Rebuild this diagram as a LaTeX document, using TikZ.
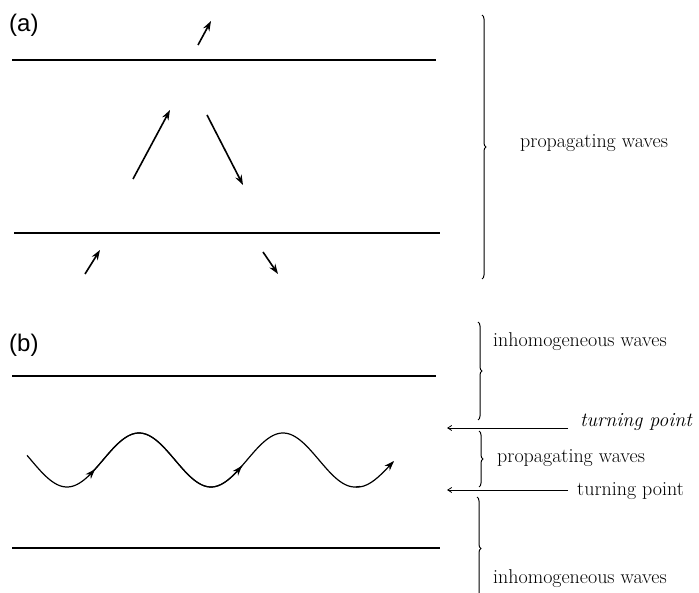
\documentclass[tikz,border=0pt]{standalone}
\usepackage{fontspec}
\newfontfamily\labelfont{Liberation Sans}
\usetikzlibrary{arrows.meta,decorations.pathreplacing}
\begin{document}
\begin{tikzpicture}[x=1pt,y=-1pt,
  layer/.style={line width=1.2pt},
  ray/.style={line width=1.6pt,-{Stealth[length=10pt,width=7pt]}},
  wavearrow/.style={line width=1.2pt,-{Stealth[length=10pt,width=7pt]}},
  rbrace/.style={decorate,decoration={brace,amplitude=4pt},line width=1pt},
  tparrow/.style={line width=0.8pt,-{Straight Barb[length=4pt,width=5pt]}},
  txt/.style={anchor=base west,inner sep=0pt,font=\fontsize{20}{24}\selectfont},
  plabel/.style={anchor=base west,inner sep=0pt,font=\labelfont\fontsize{24}{28}\selectfont}]
\useasboundingbox (0,0) rectangle (699,593);
% ---------- (a)
\node[plabel] (la) at (9,32) {(a)};
\coordinate (a1L) at (12,60);  \coordinate (a1R) at (436,60);
\coordinate (a2L) at (14,233); \coordinate (a2R) at (440,233);
\draw[layer] (a1L) -- (a1R);
\draw[layer] (a2L) -- (a2R);
\coordinate (r1s) at (198,45);  \coordinate (r1e) at (211,21);
\coordinate (r2s) at (133,179); \coordinate (r2e) at (170,110);
\coordinate (r3s) at (207,115); \coordinate (r3e) at (243,185);
\coordinate (r4s) at (85,274);  \coordinate (r4e) at (100,250);
\coordinate (r5s) at (263,252); \coordinate (r5e) at (278,274);
\draw[ray] (r1s) -- (r1e);
\draw[ray] (r2s) -- (r2e);
\draw[ray] (r3s) -- (r3e);
\draw[ray] (r4s) -- (r4e);
\draw[ray] (r5s) -- (r5e);
\coordinate (bat) at (482,15); \coordinate (bab) at (482,279);
\draw[rbrace] (bat) -- (bab);
\node[txt] (pa) at (520,148) {propagating waves};
% ---------- (b)
\node[plabel] (lb) at (9,352) {(b)};
\coordinate (b1L) at (12,376); \coordinate (b1R) at (436,376);
\coordinate (b2L) at (12,548); \coordinate (b2R) at (440,548);
\draw[layer] (b1L) -- (b1R);
\draw[layer] (b2L) -- (b2R);
\draw[wavearrow] plot[domain=27:95,samples=40,smooth] ({\x},{460+27*cos(2.5*(\x-67))});
\draw[line width=1.2pt] plot[domain=92:242,samples=80,smooth] ({\x},{460+27*cos(2.5*(\x-67))});
\draw[wavearrow] plot[domain=92:242,samples=80,smooth] ({\x},{460+27*cos(2.5*(\x-67))});
\draw[line width=1.2pt] plot[domain=239:360,samples=70,smooth] ({\x},{460+27*cos(2.5*(\x-67))});
\draw[wavearrow] plot[domain=356:394,samples=30,smooth] ({\x},{460+27*cos(2.5*(\x-67))+(\x-356)*0.12});
% braces (b)
\coordinate (bb1t) at (478,322); \coordinate (bb1b) at (478,420);
\coordinate (bb2t) at (479,431); \coordinate (bb2b) at (479,487);
\coordinate (bb3t) at (477,497); \coordinate (bb3b) at (477,600);
\draw[rbrace] (bb1t) -- (bb1b);
\draw[rbrace] (bb2t) -- (bb2b);
\draw[rbrace] (bb3t) -- (bb3b);
\coordinate (tp1s) at (568,428); \coordinate (tp1e) at (447,428);
\coordinate (tp2s) at (568,490); \coordinate (tp2e) at (447,490);
\draw[tparrow] (tp1s) -- (tp1e);
\draw[tparrow] (tp2s) -- (tp2e);
\node[txt] (ih1) at (493,347) {inhomogeneous waves};
\node[txt] (tpi) at (580,427) {\itshape turning point};
\node[txt] (pb) at (497,463) {propagating waves};
\node[txt] (tpu) at (577,495) {turning point};
\node[txt] (ih2) at (493,583) {inhomogeneous waves};
\end{tikzpicture}
\end{document}
